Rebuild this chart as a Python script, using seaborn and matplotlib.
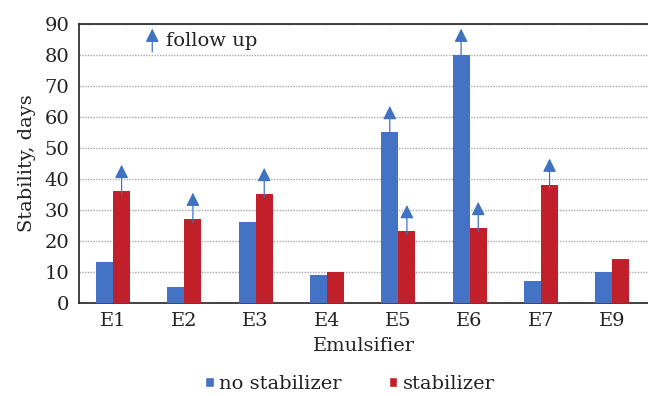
import matplotlib
matplotlib.use("Agg")
import matplotlib.pyplot as plt
import seaborn as sns
import pandas as pd
from matplotlib.patches import Patch

emulsifiers = ["E1", "E2", "E3", "E4", "E5", "E6", "E7", "E9"]
no_stabilizer = [13, 5, 26, 9, 55, 80, 7, 10]
stabilizer = [36, 27, 35, 10, 23, 24, 38, 14]
follow_no = [False, False, False, False, True, True, False, False]
follow_st = [True, True, True, False, True, True, True, False]
series_names = ["no stabilizer", "stabilizer"]
yticks = [0, 10, 20, 30, 40, 50, 60, 70, 80, 90]

BLUE = "#4472C4"
RED = "#C1202A"
ARROW = "#3F72C0"
FS = 14

sns.set_style("white")
plt.rcParams["font.family"] = ["DejaVu Serif"]

df = pd.DataFrame({
    "Emulsifier": emulsifiers * 2,
    "Stability": no_stabilizer + stabilizer,
    "Series": [series_names[0]] * len(emulsifiers) + [series_names[1]] * len(emulsifiers),
})

fig = plt.figure(figsize=(6.48, 3.96), dpi=100)
ax = fig.add_axes([79 / 648, 1 - 302.5 / 396, 1 - 79 / 648, (302.5 - 24) / 396])

sns.barplot(data=df, x="Emulsifier", y="Stability", hue="Series",
            palette=[BLUE, RED], saturation=1, width=0.48, gap=0, ax=ax, legend=False,
            edgecolor=None, linewidth=0, zorder=3)

ax.set_ylim(0, 90)
ax.set_xlim(-0.477, 7.5)
ax.set_yticks(yticks)
ax.yaxis.grid(True, linestyle=(0, (1, 1)), color="#a8a8a8", linewidth=1.0, zorder=0)
ax.xaxis.grid(False)
ax.set_axisbelow(True)
for s in ["left", "bottom", "top"]:
    ax.spines[s].set_visible(True)
    ax.spines[s].set_color("#222222")
    ax.spines[s].set_linewidth(1.2)
ax.spines["right"].set_visible(False)
ax.tick_params(axis="y", length=0, labelsize=FS, colors="#222222", pad=7)
ax.tick_params(axis="x", length=0, labelsize=FS, colors="#222222", pad=7)
ax.set_ylabel("Stability, days", fontsize=FS, color="#222222", labelpad=6)
ax.set_xlabel("Emulsifier", fontsize=FS, color="#222222", labelpad=5)

arrow_len = 8.5
astyle = dict(arrowstyle="-|>,head_length=0.9,head_width=0.45",
              color=ARROW, lw=0.9, mutation_scale=9, shrinkA=0, shrinkB=0)
for container, flags in zip(ax.containers, [follow_no, follow_st]):
    for bar, flag in zip(container.patches, flags):
        if not flag:
            continue
        xc = bar.get_x() + bar.get_width() / 2
        top = bar.get_height()
        ax.annotate("", xy=(xc, top + arrow_len), xytext=(xc, top - 1),
                    arrowprops=astyle, annotation_clip=False, zorder=5)

# follow-up key
ax.annotate("", xy=(0.55, 88.5), xytext=(0.55, 81),
            arrowprops=astyle, annotation_clip=False, zorder=5)
ax.text(0.74, 84.5, "follow up", fontsize=FS, color="#222222", va="center", ha="left")

handles = [Patch(facecolor=BLUE), Patch(facecolor=RED)]
fig.legend(handles, series_names, loc="center", bbox_to_anchor=(350 / 648, 1 - 384 / 396),
           ncol=2, frameon=False, fontsize=FS, handlelength=0.45, handleheight=0.45,
           handletextpad=0.3, columnspacing=2.4, labelcolor="#222222")

fig.savefig("out.png", dpi=100)
